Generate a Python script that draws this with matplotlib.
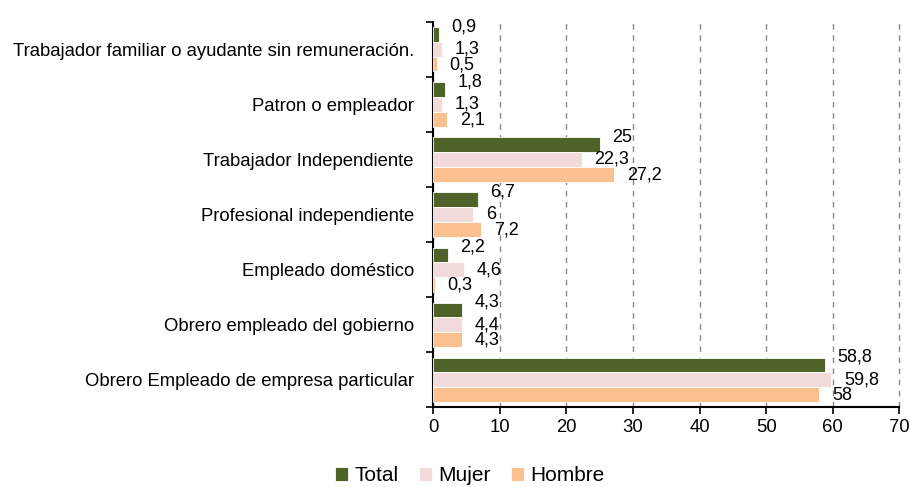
import numpy as np
import matplotlib
matplotlib.use("Agg")
from matplotlib import pyplot as plt
from matplotlib.ticker import MultipleLocator

plt.rcParams['font.family'] = ['Liberation Sans', 'DejaVu Sans']

categorias = ["Trabajador familiar o ayudante sin remuneración.",
              "Patron o empleador",
              "Trabajador Independiente",
              "Profesional independiente",
              "Empleado doméstico",
              "Obrero empleado del gobierno",
              "Obrero Empleado de empresa particular"]
total = [0.9, 1.8, 25, 6.7, 2.2, 4.3, 58.8]
mujer = [1.3, 1.3, 22.3, 6, 4.6, 4.4, 59.8]
hombre = [0.5, 2.1, 27.2, 7.2, 0.3, 4.3, 58]

series = [("Total", total, "#4F6228"),
          ("Mujer", mujer, "#F2DCDB"),
          ("Hombre", hombre, "#FAC090")]
# desplazamiento vertical de las etiquetas (puntos), como sale en excel
dy = {"Total": 5.5, "Mujer": 0, "Hombre": -0.5}

fig = plt.figure(figsize=(9.12, 4.87), dpi=100)
ax = fig.add_axes([0.475, 0.164, 0.511, 0.791])

y = np.arange(len(categorias))
h = 0.267
for k, (nombre, vals, col) in enumerate(series):
    pos = y + (k - 1) * h
    ax.barh(pos, vals, height=h, color=col, edgecolor="white", linewidth=0.6, label=nombre, zorder=3)
    for p, v in zip(pos, vals):
        ax.annotate(f"{v:g}".replace(".", ","), (v, p), xytext=(9, dy[nombre]),
                    textcoords="offset points", ha="left", va="center", fontsize=13)

ax.set_ylim(len(categorias) - 0.5, -0.5)
ax.set_xlim(0, 70)
ax.xaxis.set_major_locator(MultipleLocator(10))
ax.set_yticks(y)
ax.set_yticklabels(categorias, fontsize=13.3)
ax.set_yticks(np.arange(len(categorias) + 1) - 0.5, minor=True)
ax.tick_params(axis="y", which="major", length=0, pad=14)
ax.tick_params(axis="y", which="minor", length=5, width=1.2)
ax.tick_params(axis="x", labelsize=13.3, length=5, width=1.2)
ax.grid(axis="x", color="#888888", linestyle=(0, (4, 4)), linewidth=1, zorder=0)
for gl in ax.get_xgridlines():
    gl.set_clip_on(False)
for s in ["top", "right"]:
    ax.spines[s].set_visible(False)
for s in ["left", "bottom"]:
    ax.spines[s].set_linewidth(1.5)

fig.legend(loc="lower center", bbox_to_anchor=(0.515, -0.035), ncol=3, frameon=False,
           fontsize=15, handlelength=0.6, handleheight=0.6, handletextpad=0.3, columnspacing=1.0)

fig.savefig("out.png", dpi=100)
